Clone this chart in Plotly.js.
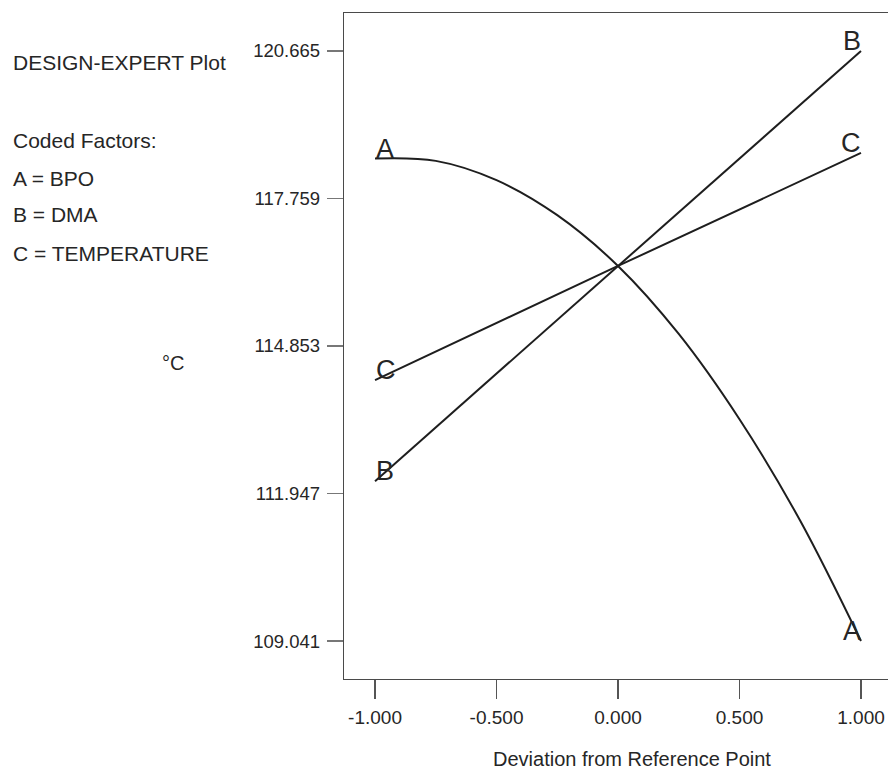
<!DOCTYPE html>
<html>
<head>
<meta charset="utf-8">
<script src="https://cdn.plot.ly/plotly-3.0.1.min.js"></script>
<style>
html,body{margin:0;padding:0;background:#fff;}
#chart{width:888px;height:771px;}
</style>
</head>
<body>
<div id="chart"></div>
<script>
// ---- data ----
const xCurve = [-1, -0.75, -0.5, -0.25, 0, 0.25, 0.5, 0.75, 1];
const seriesA = [118.546, 118.50, 118.12, 117.43, 116.43, 115.09, 113.41, 111.41, 109.041];
const xLine = [-1, 0, 1];
const seriesB = [112.19, 116.43, 120.665];
const seriesC = [114.18, 116.43, 118.656];
const seriesNames = ['A', 'B', 'C'];
const infoLines = ['DESIGN-EXPERT Plot', 'Coded Factors:', 'A = BPO', 'B = DMA', 'C = TEMPERATURE'];
const yUnit = '°C';
const xTitle = 'Deviation from Reference Point';
const yTickVals = [109.041, 111.947, 114.853, 117.759, 120.665];
const yTickText = ['109.041', '111.947', '114.853', '117.759', '120.665'];
const xTickVals = [-1, -0.5, 0, 0.5, 1];
const xTickText = ['-1.000', '-0.500', '0.000', '0.500', '1.000'];

// ---- layout geometry ----
const W = 888, H = 771;
const M = {l: 344, r: 0, t: 13, b: 92};
const pw = W - M.l - M.r, ph = H - M.t - M.b;
const px2x = px => (px - M.l) / pw;
const py2y = py => 1 - (py - M.t) / ph;

const FONT = 'Liberation Sans, Arial, sans-serif';
const TXT = '#262626';
const LINE = '#1e1e1e';

const xs = [xCurve, xLine, xLine];
const ys = [seriesA, seriesB, seriesC];

const traces = seriesNames.map((n, i) => ({
  x: xs[i], y: ys[i], name: n, type: 'scatter', mode: 'lines',
  line: {color: LINE, width: 2, shape: i === 0 ? 'spline' : 'linear'},
  hoverinfo: 'skip'
}));

const annotations = [];
// series labels at both ends
seriesNames.forEach((n, i) => {
  const xv = xs[i], yv = ys[i];
  annotations.push({x: xv[0], y: yv[0], xref: 'x', yref: 'y', text: n, showarrow: false,
    xanchor: 'left', yanchor: 'bottom', xshift: -1, yshift: -7,
    font: {family: FONT, size: 27, color: TXT}});
  annotations.push({x: xv[xv.length - 1], y: yv[yv.length - 1], xref: 'x', yref: 'y', text: n, showarrow: false,
    xanchor: 'right', yanchor: 'bottom', xshift: 2, yshift: -7,
    font: {family: FONT, size: 27, color: TXT}});
});
// left information block
const infoY = [63, 140, 178, 215, 253];
infoLines.forEach((t, i) => {
  annotations.push({x: px2x(11), y: py2y(infoY[i]), xref: 'paper', yref: 'paper', text: t, showarrow: false,
    xanchor: 'left', yanchor: 'middle', font: {family: FONT, size: 21, color: TXT}});
});
annotations.push({x: px2x(173), y: py2y(363), xref: 'paper', yref: 'paper', text: yUnit, showarrow: false,
  xanchor: 'center', yanchor: 'middle', font: {family: FONT, size: 20, color: TXT}});
annotations.push({x: px2x(632), y: py2y(759), xref: 'paper', yref: 'paper', text: xTitle, showarrow: false,
  xanchor: 'center', yanchor: 'middle', font: {family: FONT, size: 20, color: TXT}});

const layout = {
  width: W, height: H,
  margin: {l: M.l, r: M.r, t: M.t, b: M.b, pad: 0},
  paper_bgcolor: '#fff', plot_bgcolor: '#fff',
  showlegend: false,
  font: {family: FONT, color: TXT},
  xaxis: {
    range: [-1.1277, 1.1112], showgrid: false, zeroline: false,
    showline: true, mirror: true, linecolor: '#4a4a4a', linewidth: 1.3,
    ticks: 'outside', ticklen: 19, tickwidth: 1.3, tickcolor: '#555',
    tickvals: xTickVals, ticktext: xTickText,
    tickfont: {family: FONT, size: 19, color: TXT}, ticklabelstandoff: 2
  },
  yaxis: {
    range: [108.293, 121.413], showgrid: false, zeroline: false,
    showline: true, mirror: false, linecolor: '#4a4a4a', linewidth: 1.3,
    ticks: 'outside', ticklen: 16, tickwidth: 1.3, tickcolor: '#777',
    tickvals: yTickVals, ticktext: yTickText,
    tickfont: {family: FONT, size: 18.5, color: TXT}, ticklabelstandoff: 3
  },
  annotations: annotations
};

Plotly.newPlot('chart', traces, layout, {displayModeBar: false, staticPlot: true});
</script>
</body>
</html>
